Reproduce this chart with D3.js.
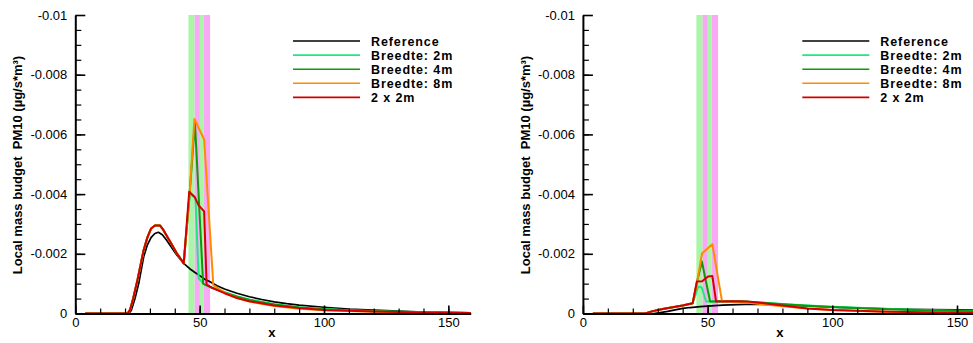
<!DOCTYPE html>
<html>
<head>
<meta charset="utf-8">
<script src="https://cdn.jsdelivr.net/npm/d3@7"></script>
<style>
  html, body { margin: 0; padding: 0; background: #fff; }
  svg { display: block; font-family: "Liberation Sans", Arial, sans-serif; }
</style>
</head>
<body>
<svg id="chart" width="973" height="343"></svg>
<script>
// series names and colours (legend order)
const seriesNames = ['Reference', 'Breedte: 2m', 'Breedte: 4m', 'Breedte: 8m', '2 x 2m'];
const seriesColors = ['#000000', '#1ee882', '#0a9a0a', '#ff8a00', '#d40000'];

// shaded strips along x (start, end, colour)
const bands = [[45.5, 48, '#a9f6a6'], [48, 50.1, '#f9a8f5'], [50.1, 51.6, '#a9f6a6'], [51.6, 54.2, '#f9a8f5']];

const yTicks = [0, -0.002, -0.004, -0.006, -0.008, -0.01];
const yTickLabels = ['0', '-0.002', '-0.004', '-0.006', '-0.008', '-0.01'];
const xTicks = [0, 50, 100, 150];

// values in units of 1e-3 (plotted as negative budget)
// left panel
const leftStart = [[4, 0], [21, 0], [22, 0.12], [23.3, 0.51], [25, 1.12], [27.5, 2.13], [29, 2.55], [30.5, 2.85],
  [32, 2.95], [34, 2.95], [35.4, 2.8], [38.1, 2.41], [40.8, 2.02], [43.6, 1.68]];
const leftRef = [[4, 0], [21.5, 0], [22.5, 0.1], [24, 0.5], [25.5, 1.0], [27.5, 1.9], [29, 2.3], [30.5, 2.55], [32, 2.68],
  [33.4, 2.72], [35, 2.64], [36.5, 2.48], [38.1, 2.29], [40.8, 1.96], [43.6, 1.68], [46, 1.5], [48, 1.38], [50, 1.27],
  [52, 1.15], [54, 1.07], [57, 0.93], [60, 0.82], [65, 0.68], [70, 0.56], [75, 0.47], [80, 0.39], [85, 0.33], [90, 0.28],
  [100, 0.21], [110, 0.15], [120, 0.11], [130, 0.08], [140, 0.05], [150, 0.03], [159, 0.02]];
const left2m = [[46, 4.0], [48.3, 3.88], [49.6, 1.18], [52, 0.96], [55, 0.87], [60, 0.72], [65, 0.58], [70, 0.47],
  [80, 0.31], [90, 0.21], [100, 0.15], [110, 0.11], [120, 0.08], [130, 0.06], [140, 0.04], [150, 0.03], [159, 0.02]];
const left4m = [[46, 4.05], [48.1, 6.4], [51.4, 1.0], [55, 0.86], [60, 0.7], [65, 0.56], [70, 0.45], [80, 0.3],
  [90, 0.2], [100, 0.14], [110, 0.1], [120, 0.075], [130, 0.055], [140, 0.04], [150, 0.03], [159, 0.02]];
const left8m = [[46, 4.05], [47.9, 6.52], [51.8, 5.83], [55.5, 0.95], [60, 0.7], [65, 0.52], [70, 0.4], [80, 0.25],
  [90, 0.16], [100, 0.11], [110, 0.08], [120, 0.06], [130, 0.04], [140, 0.03], [150, 0.02], [159, 0.015]];
const left2x2 = [[45.8, 4.08], [48, 3.9], [49.6, 3.62], [51.8, 3.42], [52.8, 0.97], [55, 0.86], [60, 0.68], [65, 0.52],
  [70, 0.41], [80, 0.27], [90, 0.18], [100, 0.12], [110, 0.09], [120, 0.07], [130, 0.05], [140, 0.035], [150, 0.025], [159, 0.02]];

// right panel
const rightStart = [[4, 0], [25, 0], [28, 0.08], [32, 0.15], [36, 0.21], [40, 0.27], [44, 0.34]];
const rightRef = [[4, 0], [28.5, 0], [31, 0.03], [34, 0.07], [37, 0.12], [40, 0.17], [43, 0.2], [47, 0.23], [50, 0.25],
  [56, 0.28], [62, 0.3], [68, 0.31], [75, 0.3], [85, 0.27], [100, 0.21], [115, 0.17], [130, 0.14], [150, 0.12], [159, 0.11]];
const right2m = [[46.2, 0.9], [47.6, 0.88], [49.4, 0.4], [55, 0.4], [62, 0.42], [70, 0.38], [80, 0.32], [90, 0.27],
  [100, 0.23], [120, 0.16], [140, 0.11], [159, 0.08]];
const right4m = [[45.8, 1.07], [47.7, 1.74], [51, 0.4], [56, 0.41], [62, 0.41], [70, 0.37], [80, 0.31], [90, 0.26],
  [100, 0.22], [120, 0.15], [140, 0.1], [159, 0.07]];
const right8m = [[45.8, 1.07], [47.8, 2.02], [51.9, 2.32], [55.8, 0.4], [62, 0.4], [70, 0.33], [80, 0.24], [90, 0.17],
  [100, 0.12], [120, 0.06], [140, 0.03], [159, 0.01]];
const right2x2 = [[45.7, 1.07], [47.8, 1.08], [50.2, 1.24], [51.9, 1.26], [53.4, 0.4], [60, 0.41], [66, 0.4], [75, 0.32],
  [85, 0.22], [90, 0.17], [100, 0.12], [120, 0.07], [140, 0.03], [159, 0.01]];

const leftSeries = [leftRef, leftStart.concat(left2m), leftStart.concat(left4m), leftStart.concat(left8m), leftStart.concat(left2x2)];
const rightSeries = [rightRef, rightStart.concat(right2m), rightStart.concat(right4m), rightStart.concat(right8m), rightStart.concat(right2x2)];

const svg = d3.select('#chart');
const plotTop = 15, plotBottom = 313.5;

function drawPanel(left, pxPerUnit, series, legendX) {
  const x = d3.scaleLinear().domain([0, 159]).range([left, left + 159 * pxPerUnit]);
  const y = d3.scaleLinear().domain([0, -0.01]).range([plotBottom, plotTop]);
  const g = svg.append('g');

  // strips
  g.selectAll('rect.band').data(bands).enter().append('rect')
    .attr('x', d => x(d[0]))
    .attr('width', d => x(d[1]) - x(d[0]))
    .attr('y', plotTop)
    .attr('height', plotBottom - plotTop)
    .attr('fill', d => d[2]);

  // curves
  const line = d3.line().x(d => x(d[0])).y(d => y(-d[1] / 1000));
  series.forEach((s, i) => {
    g.append('path')
      .attr('d', line(s))
      .attr('fill', 'none')
      .attr('stroke', seriesColors[i])
      .attr('stroke-width', i === 0 ? 1.7 : 2)
      .attr('stroke-linejoin', 'round');
  });

  // minor ticks
  g.append('g').attr('transform', `translate(${left},0)`)
    .call(d3.axisLeft(y).tickValues(d3.range(1, 20).map(k => -k * 0.0005)).tickSize(-6).tickFormat(''))
    .call(a => a.select('.domain').remove())
    .call(a => a.selectAll('line').attr('stroke-width', 1.2));
  g.append('g').attr('transform', `translate(0,${plotBottom})`)
    .call(d3.axisBottom(x).tickValues(d3.range(10, 160, 10)).tickSize(-5).tickFormat(''))
    .call(a => a.select('.domain').remove())
    .call(a => a.selectAll('line').attr('stroke-width', 1.2));

  // major axes
  g.append('g').attr('transform', `translate(${left},0)`)
    .call(d3.axisLeft(y).tickValues(yTicks).tickSize(-10).tickPadding(8).tickSizeOuter(0)
      .tickFormat((d, i) => yTickLabels[i]))
    .call(a => a.select('.domain').attr('stroke-width', 2))
    .call(a => a.selectAll('line').attr('stroke-width', 1.6))
    .call(a => a.selectAll('text').attr('font-size', 13).attr('fill', '#000')
      .attr('font-family', '"Liberation Sans", Arial, sans-serif'));
  g.append('g').attr('transform', `translate(0,${plotBottom})`)
    .call(d3.axisBottom(x).tickValues(xTicks).tickSize(-8).tickPadding(4.5).tickSizeOuter(0))
    .call(a => a.select('.domain').attr('stroke-width', 2))
    .call(a => a.selectAll('line').attr('stroke-width', 1.6))
    .call(a => a.selectAll('text').attr('font-size', 13).attr('fill', '#000')
      .attr('font-family', '"Liberation Sans", Arial, sans-serif'));

  // axis titles
  g.append('text')
    .attr('transform', `translate(${left - 53},165) rotate(-90)`)
    .attr('text-anchor', 'middle')
    .attr('font-size', 13).attr('font-weight', 'bold')
    .style('white-space', 'pre')
    .text('Local mass budget  PM10 (\u00b5g/s*m\u00b3)');
  g.append('text')
    .attr('x', x(79))
    .attr('y', 337)
    .attr('text-anchor', 'middle')
    .attr('font-size', 13).attr('font-weight', 'bold')
    .text('x');

  // legend
  const lg = g.append('g');
  seriesNames.forEach((name, i) => {
    const ly = 41 + i * 14.1;
    lg.append('line')
      .attr('x1', legendX).attr('x2', legendX + 67)
      .attr('y1', ly).attr('y2', ly)
      .attr('stroke', seriesColors[i]).attr('stroke-width', 1.6);
    lg.append('text')
      .attr('x', legendX + 78).attr('y', ly + 4.6)
      .attr('font-size', 12.5).attr('font-weight', 'bold')
      .attr('letter-spacing', 0.9)
      .text(name);
  });
}

drawPanel(75.3, 2.487, leftSeries, 293);
drawPanel(582.9, 2.494, rightSeries, 802.3);
</script>
</body>
</html>
